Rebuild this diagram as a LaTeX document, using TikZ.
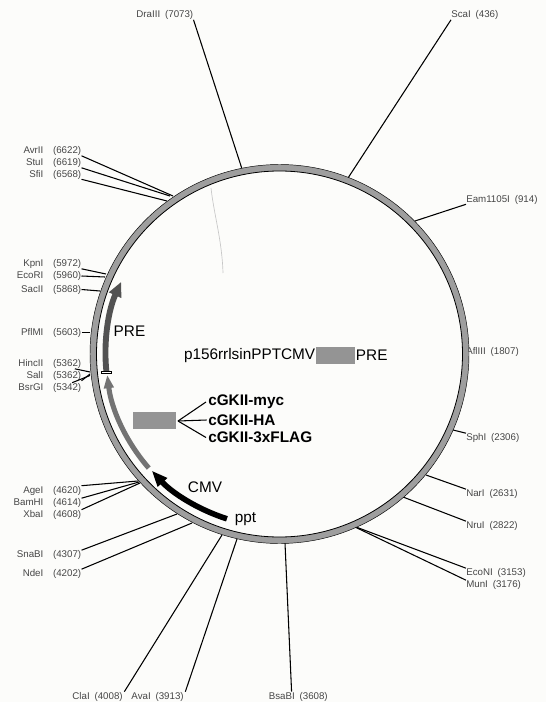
\documentclass[tikz,border=0pt]{standalone}
\usepackage{fontspec}
\setmainfont{Liberation Sans}
\usetikzlibrary{positioning,arrows.meta}
\definecolor{paper}{RGB}{252,252,250}
\definecolor{ringgrey}{RGB}{158,158,158}
\definecolor{boxgrey}{RGB}{148,148,148}
\definecolor{labelgrey}{RGB}{70,70,70}
\tikzset{
  sitelabel/.style={inner sep=0pt, font=\fontsize{7.3pt}{8pt}\selectfont, text=labelgrey},
  siteline/.style={draw=black, line width=0.8pt},
  bigtext/.style={inner sep=0pt, font=\fontsize{11.5pt}{13pt}\selectfont},
  tagtext/.style={bigtext, font=\fontsize{11.5pt}{13pt}\selectfont\bfseries},
  greybox/.style={fill=boxgrey, inner sep=0pt, minimum height=17*0.75pt},
}
\begin{document}
\begin{tikzpicture}[x=0.75pt,y=-0.75pt]
\useasboundingbox (0,0) rectangle (546,702);
\fill[paper] (0,0) rectangle (546,702);
\coordinate (ctr) at (279.5,354);
% scratch on the scan
\draw[black!22, line width=0.5pt] (211,188) .. controls (214,215) and (222,240) .. (223,273);
% site labels, clockwise from the top
\node[sitelabel, anchor=east] (draIII) at (193.5,15) {DraIII\enspace(7073)};
\node[sitelabel, anchor=west] (scaI) at (451,15) {ScaI\enspace(436)};
\node[sitelabel, anchor=west] (eamI) at (466,199.5) {Eam1105I\enspace(914)};
\node[sitelabel, anchor=west] (aflIII) at (466,352) {AflIII\enspace(1807)};
\node[sitelabel, anchor=west] (sphI) at (466,438) {SphI\enspace(2306)};
\node[sitelabel, anchor=west] (narI) at (466,494) {NarI\enspace(2631)};
\node[sitelabel, anchor=west] (nruI) at (466,526) {NruI\enspace(2822)};
\node[sitelabel, anchor=west] (ecoNI) at (466,573) {EcoNI\enspace(3153)};
\node[sitelabel, anchor=west] (munI) at (466,585) {MunI\enspace(3176)};
\node[sitelabel, anchor=east] (bsaBI) at (328,696.5) {BsaBI\enspace(3608)};
\node[sitelabel, anchor=east] (avaI) at (184,696.5) {AvaI\enspace(3913)};
\node[sitelabel, anchor=east] (claI) at (123,696.5) {ClaI\enspace(4008)};
\node[sitelabel, anchor=east] (ndeI) at (81.5,574) {NdeI\quad(4202)};
\node[sitelabel, anchor=east] (snaBI) at (81.5,555) {SnaBI\quad(4307)};
\node[sitelabel, anchor=east] (xbaI) at (81.5,514.5) {XbaI\quad(4608)};
\node[sitelabel, anchor=east] (bamHI) at (81.5,503) {BamHI\quad(4614)};
\node[sitelabel, anchor=east] (ageI) at (81.5,490.5) {AgeI\quad(4620)};
\node[sitelabel, anchor=east] (bsrGI) at (81.5,387.5) {BsrGI\quad(5342)};
\node[sitelabel, anchor=east] (salI) at (81.5,376) {SalI\quad(5362)};
\node[sitelabel, anchor=east] (hincII) at (81.5,364) {HincII\quad(5362)};
\node[sitelabel, anchor=east] (pflMI) at (81.5,332.5) {PflMI\quad(5603)};
\node[sitelabel, anchor=east] (sacII) at (81.5,289.5) {SacII\quad(5868)};
\node[sitelabel, anchor=east] (ecoRI) at (81.5,276) {EcoRI\quad(5960)};
\node[sitelabel, anchor=east] (kpnI) at (81.5,264) {KpnI\quad(5972)};
\node[sitelabel, anchor=east] (sfiI) at (81.5,174.5) {SfiI\quad(6568)};
\node[sitelabel, anchor=east] (stuI) at (81.5,163) {StuI\quad(6619)};
\node[sitelabel, anchor=east] (avrII) at (81.5,151) {AvrII\quad(6622)};
% points on the ring
\coordinate (draIIIr) at (241.7,168);
\coordinate (scaIr) at (348,178);
\coordinate (eamIr) at (415,221);
\coordinate (sphIr) at (453,430);
\coordinate (narIr) at (426,475);
\coordinate (nruIr) at (403,497);
\coordinate (ecoNIr) at (356,527);
\coordinate (munIr) at (355,527);
\coordinate (bsaBIr) at (285,543);
\coordinate (avaIr) at (237,539);
\coordinate (claIr) at (222,535);
\coordinate (ndeIr) at (192,523);
\coordinate (snaBIr) at (177,514);
\coordinate (xbaIr) at (140,483);
\coordinate (bamHIr) at (139,482);
\coordinate (ageIr) at (138,481);
\coordinate (bsrGIr) at (90,375.5);
\coordinate (salIr) at (90,374);
\coordinate (hincIIr) at (90,372);
\coordinate (pflMIr) at (90,332.5);
\coordinate (sacIIr) at (100,291);
\coordinate (ecoRIr) at (105,277);
\coordinate (kpnIr) at (106,274);
\coordinate (sfiIr) at (167,201);
\coordinate (stuIr) at (170,196);
\coordinate (avrIIr) at (173,196);
% site lines
\draw[siteline] (draIII.south east) -- (draIIIr);
\draw[siteline] (scaI.south west) -- (scaIr);
\draw[siteline] (eamI.south west) -- (eamIr);
\draw[siteline] (sphI.north west) -- (sphIr);
\draw[siteline] (narI.north west) -- (narIr);
\draw[siteline] (nruI.north west) -- (nruIr);
\draw[siteline] (ecoNI.north west) -- (ecoNIr);
\draw[siteline] (munI.north west) -- (munIr);
\draw[siteline] ([xshift=-5pt]bsaBI.north) -- (bsaBIr);
\draw[siteline] ([xshift=1pt]avaI.north east) -- (avaIr);
\draw[siteline] ([xshift=1pt]claI.north east) -- (claIr);
\draw[siteline] (ndeI.north east) -- (ndeIr);
\draw[siteline] (snaBI.north east) -- (snaBIr);
\draw[siteline] (xbaI.north east) -- (xbaIr);
\draw[siteline] (bamHI.north east) -- (bamHIr);
\draw[siteline] (ageI.north east) -- (ageIr);
\draw[siteline] ([xshift=-7pt]bsrGI.north east) -- (bsrGIr);
\draw[siteline] (salI.south east) -- (salIr);
\draw[siteline] ([xshift=-5pt]hincII.south east) -- (hincIIr);
\draw[siteline] (pflMI.east) -- (pflMIr);
\draw[siteline] (sacII.east) -- (sacIIr);
\draw[siteline] (ecoRI.east) -- (ecoRIr);
\draw[siteline] (kpnI.south east) -- (kpnIr);
\draw[siteline] (sfiI.south east) -- (sfiIr);
\draw[siteline] (stuI.south east) -- (stuIr);
\draw[siteline] (avrII.south east) -- (avrIIr);
% ring
\draw[ringgrey, line width=6.5*0.75pt] (ctr) circle[radius=186.2];
\draw[black, line width=0.35pt] (ctr) circle[radius=189.5];
\draw[black, line width=0.6pt] (ctr) circle[radius=183];
% features inside the ring
\draw[black!68, line width=4.4pt, -{Triangle[length=11pt,width=9.5pt]}] (ctr) ++(174.1:174) arc[start angle=174.1, end angle=204.5, radius=174];
\draw[black!55, line width=3.8pt, -{Triangle[length=10pt,width=7pt]}] (ctr) ++(138.9:173.5) arc[start angle=138.9, end angle=173.1, radius=173.5];
\draw[black, line width=4.2pt, -{Triangle[length=12pt,width=9pt]}] (ctr) ++(107.7:173) arc[start angle=107.7, end angle=137.6, radius=173];
\draw[black, fill=white, line width=0.4pt] (101,371) rectangle (111,373.5);
% labels inside
\node[bigtext, anchor=east] (title) at (315.5,355.5) {p156rrlsinPPTCMV};
\node[greybox, minimum width=39*0.75pt, right=0.5pt of title] (titlebox) {};
\node[bigtext, right=0pt of titlebox] (titlepre) {PRE};
\node[bigtext] (prelabel) at (129.5,331.5) {PRE};
\node[bigtext] (cmvlabel) at (205,487) {CMV};
\node[bigtext] (pptlabel) at (245.5,519) {ppt};
\node[greybox, minimum width=43*0.75pt] (insert) at (154.5,420.5) {};
\node[tagtext, anchor=west] (myc) at (208,402) {cGKII-myc};
\node[tagtext, anchor=west] (ha) at (208,420) {cGKII-HA};
\node[tagtext, anchor=west] (flag) at (208,437.5) {cGKII-3xFLAG};
\coordinate (fork) at (178,421);
\draw[siteline] (fork) -- ([xshift=-1.5pt]myc.west);
\draw[siteline] (fork) -- ([xshift=-1pt]ha.west);
\draw[siteline] (fork) -- ([xshift=-1.5pt]flag.west);
\end{tikzpicture}
\end{document}
